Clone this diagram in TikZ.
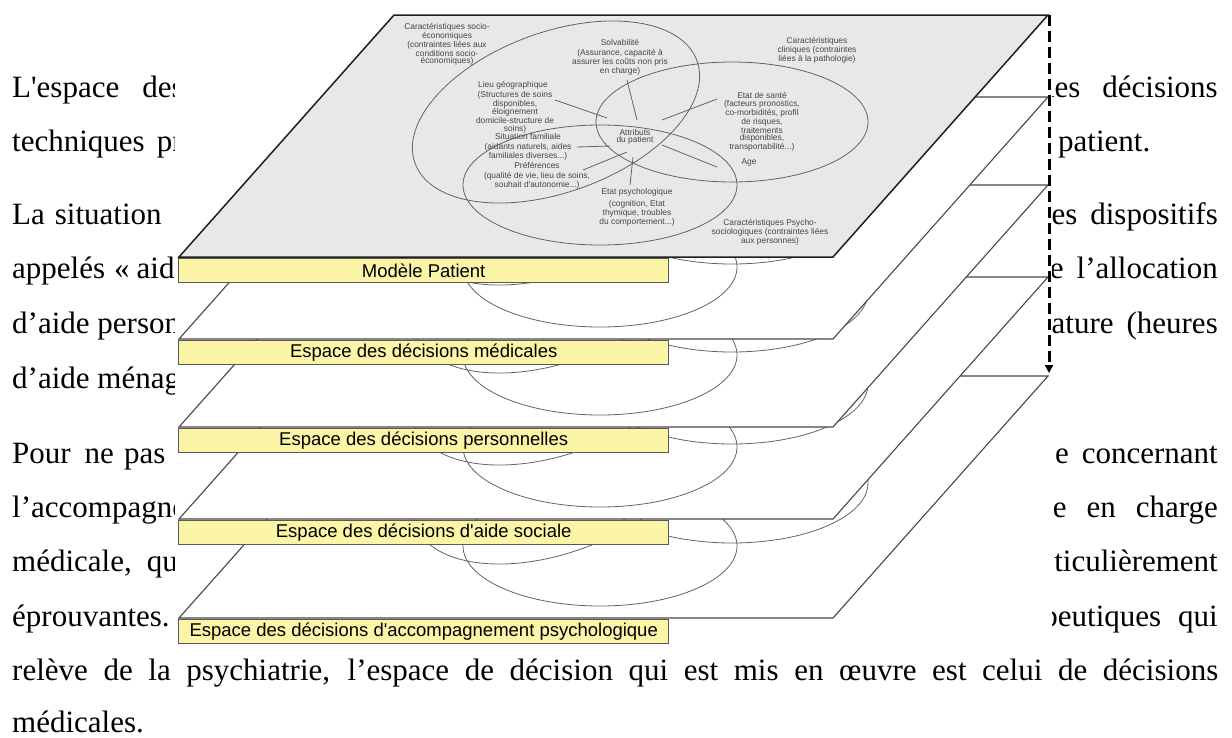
\documentclass[tikz,border=0pt]{standalone}
\usepackage{fontspec}
\setmainfont{Liberation Serif}
\newfontfamily\lsans{Liberation Sans}
\usetikzlibrary{arrows.meta}
\definecolor{layergray}{RGB}{232,232,232}
\definecolor{boxyellow}{RGB}{252,244,166}
\definecolor{venntext}{RGB}{70,70,70}
\definecolor{vennline}{RGB}{100,100,100}
\begin{document}
\begin{tikzpicture}[x=1pt,y=-1pt,
  body/.style={inner sep=0pt, font=\fontsize{31}{37}\selectfont},
  layerw/.style={fill=white, draw=black!72, line width=1.1pt, line join=miter},
  layertop/.style={fill=layergray, draw=black!88, line width=1.5pt},
  vline/.style={draw=vennline, line width=0.8pt},
  lbl/.style={draw=black!65, line width=1.4pt, fill=boxyellow, minimum width=490pt, minimum height=24pt, inner sep=0pt, anchor=north west, font=\lsans\fontsize{18.5}{20}\selectfont},
  vt/.style={inner sep=0pt, align=center, text=venntext, font=\lsans\fontsize{8.4}{7.3}\selectfont},
  conn/.style={draw=vennline, line width=0.8pt},
]
\useasboundingbox (0,0) rectangle (1232,737);
\fill[white] (0,0) rectangle (1232,737);

% ---- body text (left fragments)
\node[body, anchor=base west] (t1) at (12,97) {L\textquotesingle espace\hspace{23pt}des};
\node[body, anchor=base west] (t2) at (12,151) {techniques\hspace{12pt}pr};
\node[body, anchor=base west] (t3) at (12,224) {La\hspace{10pt}situation};
\node[body, anchor=base west] (t4) at (12,278) {appelés\hspace{9pt}«\hspace{7pt}aide};
\node[body, anchor=base west] (t5) at (12,333) {d’aide person};
\node[body, anchor=base west] (t6) at (12,388) {d’aide ménage};
\node[body, anchor=base west] (t7) at (12,463) {Pour\hspace{14pt}ne\hspace{10pt}pas};
\node[body, anchor=base west] (t8) at (12,517) {l’accompagnement};
\node[body, anchor=base west] (t9) at (12,571) {médicale,\hspace{15pt}qu};
\node[body, anchor=base west] (t10) at (12,626) {éprouvantes.};
% ---- body text (right fragments)
\node[body, anchor=base east] (r1) at (1218,97) {les\hspace{22pt}décisions};
\node[body, anchor=base west] (r2) at (1058,151) {patient.};
\node[body, anchor=base east] (r3) at (1218,224) {les\hspace{13pt}dispositifs};
\node[body, anchor=base east] (r4) at (1218,278) {de\hspace{13pt}l’allocation};
\node[body, anchor=base east] (r5) at (1218,333) {nature\hspace{13pt}(heures};
\node[body, anchor=base east] (r7) at (1218,463) {e\hspace{13pt}concernant};
\node[body, anchor=base east] (r8) at (1218,517) {e\hspace{20pt}en\hspace{20pt}charge};
\node[body, anchor=base east] (r9) at (1218,571) {ticulièrement};
\node[body, anchor=base east] (r10) at (1218,626) {peutiques\hspace{17pt}qui};
% ---- full lines
\node[body, anchor=base west] (t11) at (12,680) {\makebox[1206pt][s]{relève de la psychiatrie, l’espace de décision qui est mis en œuvre est celui de décisions}};
\node[body, anchor=base west] (t12) at (12,732) {médicales.};

% ---- figure background
\fill[white] (175,0) rectangle (1052,648);

% ---- lower layers, bottom first
\foreach \B/\s/\t/\n in {
  618/361/{Espace des décisions d\textquotesingle accompagnement psychologique}/l5,
  519/262/{Espace des décisions d\textquotesingle aide sociale}/l4,
  427/170/{Espace des décisions personnelles}/l3,
  339/82/{Espace des décisions médicales}/l2}{
  \filldraw[layerw] (179,\B) -- (833,\B) -- (1048,{\B-242}) -- (394,{\B-242}) -- cycle;
  \draw[vline] (556,{112+\s}) circle[x radius=150, y radius=80, rotate=20];
  \draw[vline] (732,{122+\s}) circle[x radius=136, y radius=60];
  \draw[vline] (600,{185+\s}) circle[x radius=137, y radius=60];
  \node[lbl] (\n) at (178,{\B+1}) {\t};
}

% ---- top layer: patient model
\filldraw[layertop] (179,257) -- (833,257) -- (1048,15) -- (394,15) -- cycle;
\draw[vline] (556,112) circle[x radius=150, y radius=80, rotate=20];
\draw[vline] (732,122) circle[x radius=136, y radius=60];
\draw[vline] (600,185) circle[x radius=137, y radius=60];
\node[lbl] (l1) at (178,258) {Modèle Patient};

\node[vt] (socio) at (447,44.5) {Caractéristiques socio-\\économiques\\(contraintes liées aux\\conditions socio-\\économiques)};
\node[vt] (solv) at (620,42) {Solvabilité};
\node[vt] (solvd) at (620,62) {(Assurance, capacité à\\assurer les coûts non pris\\en charge)};
\node[vt] (lieu) at (513,85) {Lieu géographique};
\node[vt] (lieud) at (515,112) {(Structures de soins\\disponibles,\\éloignement\\domicile-structure de\\soins)};
\node[vt] (clin) at (817,50.5) {Caractéristiques\\cliniques (contraintes\\liées à la pathologie)};
\node[vt] (sante) at (762,95) {Etat de santé};
\node[vt] (santed) at (762,126) {(facteurs pronostics,\\co-morbidités, profil\\de risques,\\traitements\\disponibles,\\transportabilité...)};
\node[vt] (age) at (749,162) {Age};
\node[vt] (psyt) at (770,232) {Caractéristiques Psycho-\\sociologiques (contraintes liées\\aux personnes)};
\node[vt] (fam) at (528,136) {Situation familiale};
\node[vt] (famd) at (528,152) {(aidants naturels, aides\\familiales diverses...)};
\node[vt] (pref) at (537,165) {Préférences};
\node[vt] (prefd) at (537,181) {(qualité de vie, lieu de soins,\\souhait d\textquotesingle autonomie...)};
\node[vt] (attr) at (635,137) {Attributs\\du patient};
\node[vt] (epsy) at (637,192) {Etat psychologique};
\node[vt] (epsyd) at (637,213) {(cognition, Etat\\thymique, troubles\\du comportement...)};

\coordinate (cl1) at (555,100); \coordinate (cl2) at (607,118);
\coordinate (cs1) at (627,80);  \coordinate (cs2) at (637,120);
\coordinate (ch1) at (662,120); \coordinate (ch2) at (717,99);
\coordinate (ca1) at (662,145); \coordinate (ca2) at (717,167);
\coordinate (cf1) at (577,147); \coordinate (cf2) at (610,146);
\coordinate (cp1) at (583,170); \coordinate (cp2) at (627,152);
\coordinate (ce1) at (633,157); \coordinate (ce2) at (630,185);
\draw[conn] (cl1) -- (cl2);
\draw[conn] (cs1) -- (cs2);
\draw[conn] (ch1) -- (ch2);
\draw[conn] (ca1) -- (ca2);
\draw[conn] (cf1) -- (cf2);
\draw[conn] (cp1) -- (cp2);
\draw[conn] (ce1) -- (ce2);

% ---- dashed arrow
\coordinate (arrS) at (1049,15);
\coordinate (arrE) at (1049,373);
\draw[line width=3pt, dash pattern=on 11pt off 5pt, -{Triangle[length=8pt,width=8pt]}] (arrS) -- (arrE);
\end{tikzpicture}
\end{document}
